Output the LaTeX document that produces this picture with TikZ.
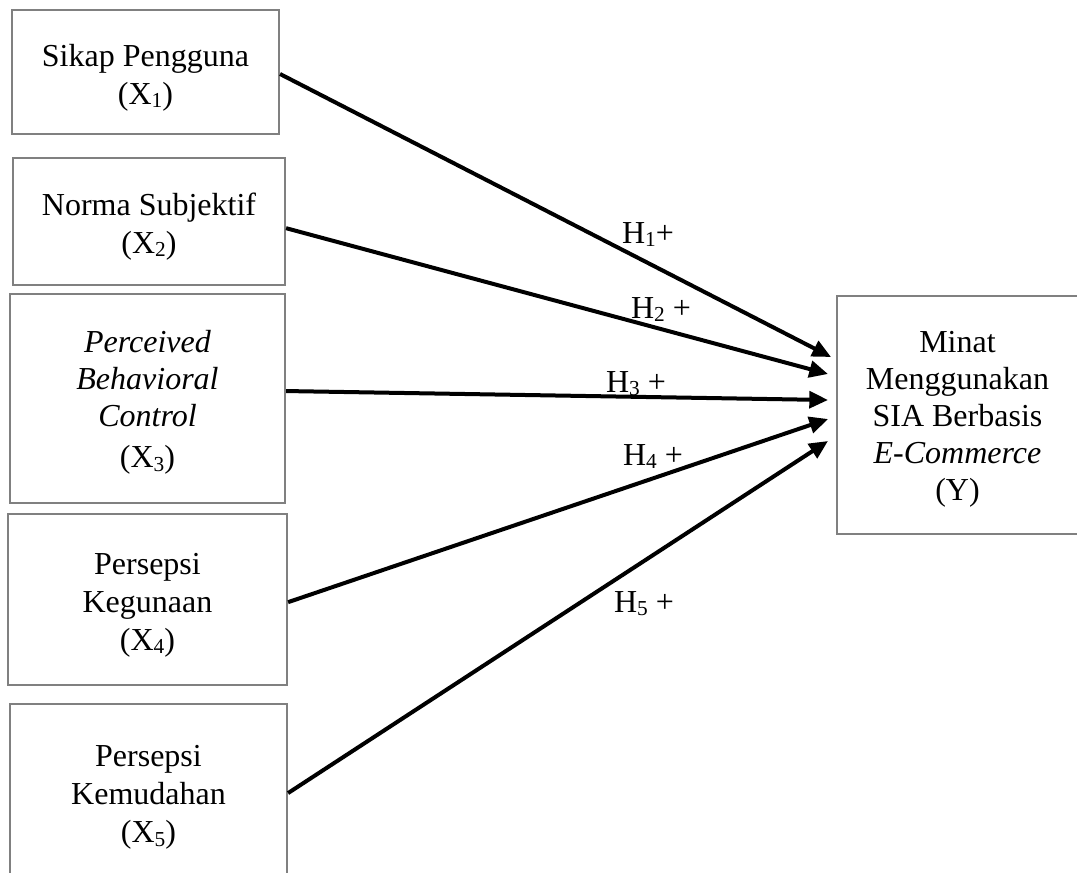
\documentclass[tikz,border=0pt]{standalone}
\usepackage{fontspec}
\setmainfont{Liberation Serif}
\usetikzlibrary{arrows.meta}
% lowered, smaller index digit
\newcommand{\idx}[1]{\raisebox{-0.25ex}{\fontsize{16pt}{16pt}\selectfont #1}}
\definecolor{boxgray}{HTML}{808080}
\begin{document}
\begin{tikzpicture}[x=0.75pt,y=-0.75pt,
  varbox/.style={draw=boxgray, line width=1.6pt, inner sep=0pt},
  vartext/.style={align=center, inner sep=0pt,
    font=\fontsize{24pt}{28.5pt}\selectfont},
  path/.style={line width=3pt, -{Triangle[length=14pt,width=12.5pt]}},
  hyp/.style={anchor=base, inner sep=0pt, font=\fontsize{24pt}{28pt}\selectfont}]
\useasboundingbox (0,0) rectangle (1077,872);
\begin{scope}
\clip (0,0) rectangle (1077,872);
% variable boxes
\node[varbox, minimum width=267*0.75pt, minimum height=124*0.75pt] (b1) at (145.5,72) {};
\node[varbox, minimum width=272*0.75pt, minimum height=127*0.75pt] (b2) at (149,221.5) {};
\node[varbox, minimum width=275*0.75pt, minimum height=209*0.75pt] (b3) at (147.5,398.5) {};
\node[varbox, minimum width=279*0.75pt, minimum height=171*0.75pt] (b4) at (147.5,599.5) {};
\node[varbox, minimum width=277*0.75pt, minimum height=176*0.75pt] (b5) at (148.5,792) {};
\node[varbox, minimum width=241*0.75pt, minimum height=238*0.75pt] (y) at (957.5,415) {};
\end{scope}
% box captions
\node[vartext] (b1t) at ([yshift=-4pt]b1.center) {Sikap Pengguna\\(X\idx{1})};
\node[vartext] (b2t) at ([yshift=-3.5pt]b2.center) {Norma Subjektif\\(X\idx{2})};
\node[vartext, font=\fontsize{24pt}{27.75pt}\selectfont] (b3t) at ([yshift=-3pt]b3.center)
  {\itshape Perceived\\\itshape Behavioral\\\itshape Control\\[3pt](X\idx{3})};
\node[vartext] (b4t) at ([yshift=-4pt]b4.center) {Persepsi\\Kegunaan\\(X\idx{4})};
\node[vartext] (b5t) at ([yshift=-4pt]b5.center) {Persepsi\\Kemudahan\\(X\idx{5})};
\node[vartext, font=\fontsize{24pt}{27.75pt}\selectfont] (yt) at ([yshift=-3.5pt]y.center)
  {Minat\\Menggunakan\\SIA Berbasis\\\itshape E-Commerce\\(Y)};
% arrow tips in front of the dependent variable
\coordinate (t1) at (831,357);
\coordinate (t2) at (828,374);
\coordinate (t3) at (828,400);
\coordinate (t4) at (828,419);
\coordinate (t5) at (828,441);
% hypothesised paths
\draw[path] ([yshift=-1.5pt]b1.east) -- (t1);
\draw[path] ([yshift=-5pt]b2.east) -- (t2);
\draw[path] ([yshift=5.6pt]b3.east) -- (t3);
\draw[path] ([yshift=-2pt]b4.east) -- (t4);
\draw[path] ([yshift=-0.8pt]b5.east) -- (t5);
% path labels
\node[hyp] (h1) at (648,243) {H\idx{1}+};
\node[hyp] (h2) at (661,318) {H\idx{2} +};
\node[hyp] (h3) at (636,392) {H\idx{3} +};
\node[hyp] (h4) at (653,465) {H\idx{4} +};
\node[hyp] (h5) at (644,612) {H\idx{5} +};
\end{tikzpicture}
\end{document}
